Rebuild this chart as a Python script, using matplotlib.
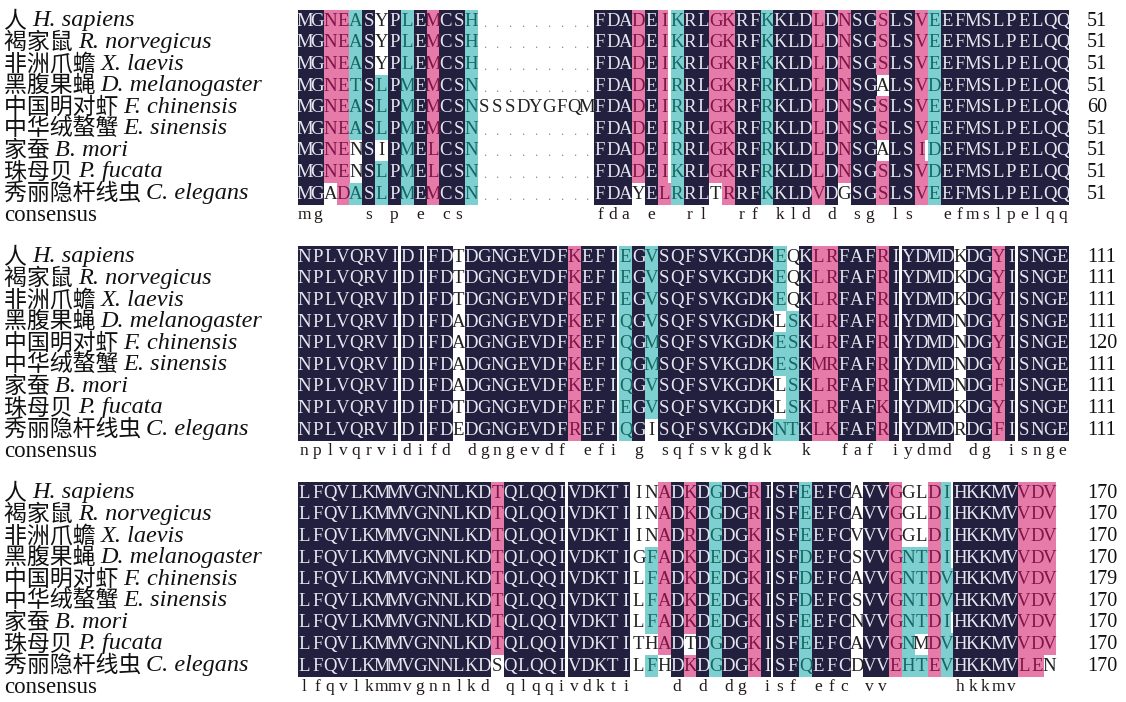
import matplotlib
matplotlib.use('Agg')
import matplotlib.pyplot as plt
from matplotlib.patches import Rectangle

# ---------------- data ----------------
species_cn = ['人', '褐家鼠', '非洲爪蟾', '黑腹果蝇', '中国明对虾',
              '中华绒螯蟹', '家蚕', '珠母贝', '秀丽隐杆线虫']
species_latin = ['H. sapiens', 'R. norvegicus', 'X. laevis', 'D. melanogaster',
                 'F. chinensis', 'E. sinensis', 'B. mori', 'P. fucata', 'C. elegans']

block1_seqs = [
    "MGNEASYPLEMCSH.........FDADEIKRLGKRFKKLDLDNSGSLSVEEFMSLPELQQ",
    "MGNEASYPLEMCSH.........FDADEIKRLGKRFKKLDLDNSGSLSVEEFMSLPELQQ",
    "MGNEASYPLEMCSH.........FDADEIKRLGKRFKKLDLDNSGSLSVEEFMSLPELQQ",
    "MGNETSLPMEMCSN.........FDADEIRRLGKRFRKLDLDNSGALSVDEFMSLPELQQ",
    "MGNEASLPMEMCSNSSSDYGFQMFDADEIRRLGKRFRKLDLDNSGSLSVEEFMSLPELQQ",
    "MGNEASLPMEMCSN.........FDADEIRRLGKRFRKLDLDNSGSLSVEEFMSLPELQQ",
    "MGNENSIPMELCSN.........FDADEIRRLGKRFRKLDLDNSGALSIDEFMSLPELQQ",
    "MGNENSLPMELCSN.........FDADEIKRLGKRFRKLDLDNSGSLSVDEFMSLPELQQ",
    "MGADASLPMEMCSN.........FDAYELRRLTRRFKKLDVDGSGSLSVEEFMSLPELQQ",
]
block2_seqs = [
    "NPLVQRVIDIFDTDGNGEVDFKEFIEGVSQFSVKGDKEQKLRFAFRIYDMDKDGYISNGE",
    "NPLVQRVIDIFDTDGNGEVDFKEFIEGVSQFSVKGDKEQKLRFAFRIYDMDKDGYISNGE",
    "NPLVQRVIDIFDTDGNGEVDFKEFIEGVSQFSVKGDKEQKLRFAFRIYDMDKDGYISNGE",
    "NPLVQRVIDIFDADGNGEVDFKEFIQGVSQFSVKGDKLSKLRFAFRIYDMDNDGYISNGE",
    "NPLVQRVIDIFDADGNGEVDFKEFIQGMSQFSVKGDKESKLRFAFRIYDMDNDGYISNGE",
    "NPLVQRVIDIFDADGNGEVDFKEFIQGMSQFSVKGDKESKMRFAFRIYDMDNDGYISNGE",
    "NPLVQRVIDIFDADGNGEVDFKEFIQGVSQFSVKGDKLSKLRFAFRIYDMDNDGFISNGE",
    "NPLVQRVIDIFDTDGNGEVDFKEFIEGVSQFSVKGDKLSKLRFAFKIYDMDKDGYISNGE",
    "NPLVQRVIDIFDEDGNGEVDFREFIQGISQFSVKGDKNTKLKFAFRIYDMDRDGFISNGE",
]
block3_seqs = [
    "LFQVLKMMVGNNLKDTQLQQIVDKTIINADKDGDGRISFEEFCAVVGGLDIHKKMVVDV",
    "LFQVLKMMVGNNLKDTQLQQIVDKTIINADKDGDGRISFEEFCAVVGGLDIHKKMVVDV",
    "LFQVLKMMVGNNLKDTQLQQIVDKTIINADRDGDGKISFEEFCVVVGGLDIHKKMVVDV",
    "LFQVLKMMVGNNLKDTQLQQIVDKTIGFADKDEDGKISFDEFCSVVGNTDIHKKMVVDV",
    "LFQVLKMMVGNNLKDTQLQQIVDKTILFADKDEDGKISFDEFCAVVGNTDVHKKMVVDV",
    "LFQVLKMMVGNNLKDTQLQQIVDKTILFADKDEDGKISFDEFCSVVGNTDVHKKMVVDV",
    "LFQVLKMMVGNNLKDTQLQQIVDKTILFADKDEDGKISFEEFCNVVGNTDIHKKMVVDV",
    "LFQVLKMMVGNNLKDTQLQQIVDKTITHADTDGDGKISFEEFCAVVGNMDVHKKMVVDV",
    "LFQVLKMMVGNNLKDSQLQQIVDKTILFHDKDGDGKISFQEFCDVVEHTEVHKKMVLEN",
]
block1_ends = [51, 51, 51, 51, 60, 51, 51, 51, 51]
block2_ends = [111, 111, 111, 111, 120, 111, 111, 111, 111]
block3_ends = [170, 170, 170, 170, 179, 170, 170, 170, 170]

# homology level per column: n = 100 %, p = >=75 %, c = >=50 %, w = none
block1_levels = "nnppcncncnpnnc" + "wwwwwwwww" + "nnnpnpcnnppnncnnnpnpnnpnnpc" + "nnnnnnnnnn"
block2_levels = ("nnnnnnnnnnnn" + "w" + "nnnnnnnn" + "p" + "nnn" + "c" + "n" + "c" +
                 "nnnnnnnnn" + "cc" + "n" + "pp" + "nnn" + "p" + "n" + "nnnn" + "w" +
                 "nn" + "p" + "n" + "nnnn")
block3_levels = ("n" * 15 + "p" + "n" * 10 + "w" + "c" + "p" + "n" + "p" + "n" + "c" +
                 "nn" + "p" + "nnn" + "c" + "nnn" + "w" + "nn" + "p" + "cc" + "p" + "c" +
                 "nnnnn" + "ppp")
# unshaded residues (row, column), 1-based
block1_unshaded = [(9, 3), (7, 5), (8, 5), (1, 7), (2, 7), (3, 7), (7, 7),
                   (9, 27), (9, 33), (9, 43), (4, 46), (7, 46)]
block2_unshaded = [(9, 28), (4, 38), (7, 38), (8, 38), (1, 39), (2, 39), (3, 39)]
block3_unshaded = [(9, 16), (1, 28), (2, 28), (3, 28), (8, 28), (9, 29), (8, 31),
                   (1, 48), (2, 48), (3, 48), (1, 49), (2, 49), (3, 49), (8, 49), (9, 59)]

blocks = [
    (block1_seqs, block1_ends, block1_levels, block1_unshaded),
    (block2_seqs, block2_ends, block2_levels, block2_unshaded),
    (block3_seqs, block3_ends, block3_levels, block3_unshaded),
]

# ---------------- style ----------------
W, H = 1126, 702
BG = {'n': '#221f3f', 'p': '#e67ba9', 'c': '#7ecfd0'}
FG = {'n': '#e6e6ee', 'p': '#7d1646', 'c': '#176663', 'w': '#222222'}
block_tops = [10, 246, 482]
row_h = 21.6
x0 = 298.0
col_w = 12.85
seq_font = 'Liberation Serif'

fig = plt.figure(figsize=(W / 100, H / 100), dpi=100)
ax = fig.add_axes([0, 0, 1, 1])
ax.set_xlim(0, W)
ax.set_ylim(H, 0)
ax.axis('off')

label_texts = []
for bi, (seqs, ends, levels, unshaded) in enumerate(blocks):
    top = block_tops[bi]
    ncol = len(seqs[0])
    white = set(unshaded)
    for r, seq in enumerate(seqs):
        yc = top + (r + 0.5) * row_h
        for c, ch in enumerate(seq):
            lvl = levels[c]
            if ch == '.' or (r + 1, c + 1) in white:
                lvl = 'w'
            xl = x0 + c * col_w
            if lvl != 'w':
                w = col_w * (0.78 if ch == 'I' else 1.0)
                ax.add_patch(Rectangle((xl, top + r * row_h), w + 0.3, row_h + 0.3,
                                       facecolor=BG[lvl], edgecolor='none',
                                       antialiased=False, zorder=1))
            if ch == '.':
                ax.text(xl + col_w / 2, yc + 3, '.', ha='center', va='center',
                        fontsize=9, color='#8a8a8a', family=seq_font, zorder=3)
            else:
                ax.text(xl + col_w / 2, yc + 0.5, ch, ha='center', va='center',
                        fontsize=13.5, color=FG[lvl], family=seq_font, zorder=3)
        # end number
        ax.text(1087, yc + 0.5, str(ends[r]), ha='left', va='center',
                fontsize=14.5, color='#111111', family=seq_font)
        # labels
        t = ax.text(4, yc, species_cn[r] + ' ', ha='left', va='center',
                    fontsize=16.5, color='#111111',
                    family=['Noto Sans CJK SC', 'DejaVu Sans'])
        label_texts.append((t, species_latin[r], yc))
    # consensus
    cy = top + 9 * row_h + 11
    ax.text(4, cy, 'consensus', ha='left', va='center', fontsize=16.5,
            color='#111111', family=seq_font)
    for c in range(ncol):
        col = [s[c] for s in seqs]
        if col[0] != '.' and all(x == col[0] for x in col):
            ax.text(x0 + c * col_w + col_w / 2, cy, col[0].lower(), ha='center',
                    va='center', fontsize=12.5, color='#241a1a', family=seq_font)

fig.canvas.draw()
rend = fig.canvas.get_renderer()
inv = ax.transData.inverted()
for t, latin, yc in label_texts:
    bb = t.get_window_extent(renderer=rend)
    xr = inv.transform((bb.x1, bb.y0))[0]
    ax.text(xr, yc, latin, ha='left', va='center', fontsize=17.5,
            style='italic', color='#111111', family=seq_font)

fig.savefig('out.png', dpi=100, facecolor='white')
